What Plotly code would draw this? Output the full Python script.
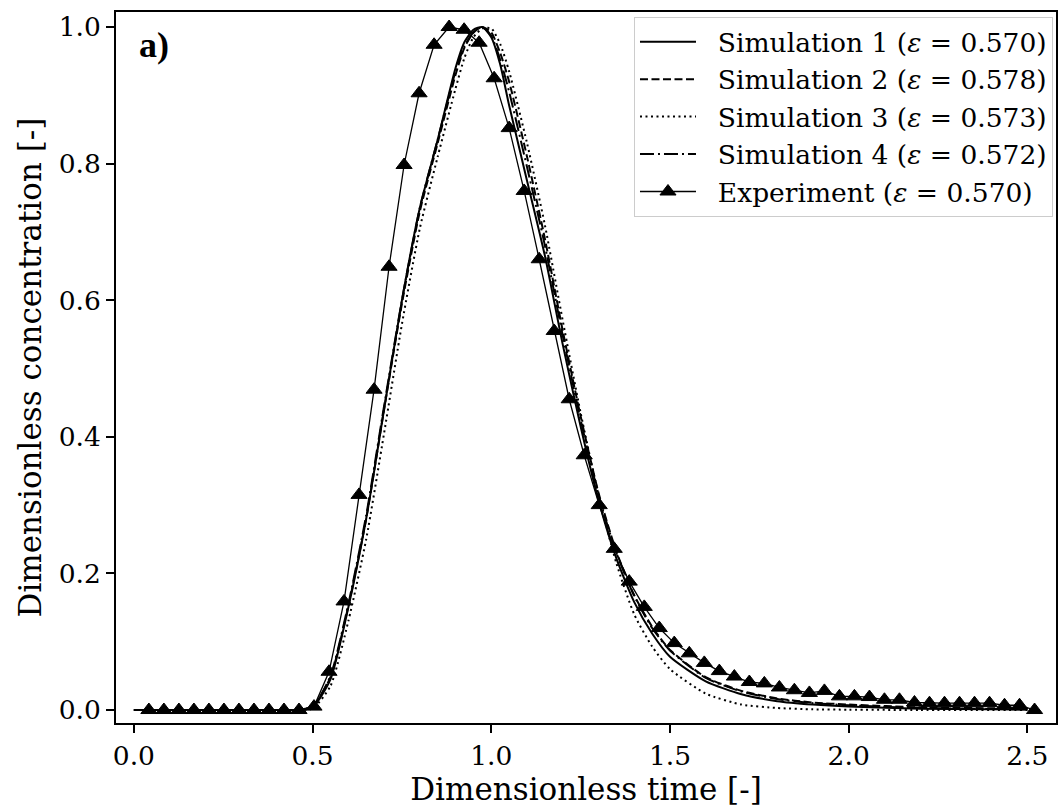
import plotly.graph_objects as go

# ---- data ----
sim_t = [0.00, 0.40, 0.45, 0.50, 0.55, 0.60, 0.65, 0.70, 0.75, 0.80, 0.85, 0.90, 0.925, 0.95, 0.975,
         1.00, 1.025, 1.05, 1.10, 1.15, 1.20, 1.25, 1.30, 1.35, 1.40, 1.45, 1.50, 1.60, 1.70, 1.80,
         1.90, 2.00, 2.20, 2.50]

sim1 = [0.0, 0.0, 0.0, 0.004, 0.045, 0.150, 0.280, 0.440, 0.600, 0.735, 0.835, 0.940, 0.978, 0.996, 1.000,
        0.985, 0.945, 0.885, 0.775, 0.665, 0.535, 0.415, 0.307, 0.222, 0.158, 0.112, 0.078, 0.042, 0.023, 0.013,
        0.008, 0.005, 0.002, 0.0005]

sim2 = [0.0, 0.0, 0.0, 0.005, 0.048, 0.152, 0.280, 0.440, 0.595, 0.730, 0.830, 0.930, 0.970, 0.992, 1.000,
        0.992, 0.962, 0.920, 0.810, 0.690, 0.555, 0.430, 0.318, 0.232, 0.168, 0.122, 0.088, 0.048, 0.028, 0.017,
        0.011, 0.008, 0.004, 0.002]

sim3 = [0.0, 0.0, 0.0, 0.002, 0.035, 0.130, 0.250, 0.405, 0.565, 0.705, 0.810, 0.910, 0.955, 0.985, 0.998,
        0.998, 0.975, 0.935, 0.830, 0.710, 0.570, 0.435, 0.315, 0.215, 0.140, 0.093, 0.060, 0.024, 0.008, 0.003,
        0.001, 0.0005, 0.0, 0.0]

sim4 = [0.0, 0.0, 0.0, 0.005, 0.050, 0.155, 0.285, 0.445, 0.600, 0.735, 0.835, 0.935, 0.972, 0.992, 1.000,
        0.987, 0.952, 0.905, 0.795, 0.680, 0.548, 0.425, 0.315, 0.230, 0.167, 0.120, 0.087, 0.047, 0.027, 0.016,
        0.010, 0.007, 0.003, 0.001]

exp_t = [0.042, 0.084, 0.126, 0.168, 0.210, 0.252, 0.294, 0.336, 0.378, 0.420, 0.462, 0.504, 0.546, 0.588,
         0.630, 0.672, 0.714, 0.756, 0.798, 0.840, 0.882, 0.924, 0.966, 1.008, 1.050, 1.092, 1.134, 1.176,
         1.218, 1.260, 1.302, 1.344, 1.386, 1.428, 1.470, 1.512, 1.554, 1.596, 1.638, 1.680, 1.722, 1.764,
         1.806, 1.848, 1.890, 1.932, 1.974, 2.016, 2.058, 2.100, 2.142, 2.184, 2.226, 2.268, 2.310, 2.352,
         2.394, 2.436, 2.478, 2.520]

exp_c = [0.0, 0.0, 0.0, 0.0, 0.0, 0.0, 0.0, 0.0, 0.0, 0.0, 0.0, 0.005, 0.056, 0.159,
         0.315, 0.469, 0.649, 0.798, 0.903, 0.974, 1.000, 0.996, 0.977, 0.925, 0.852, 0.760, 0.660, 0.555,
         0.455, 0.373, 0.300, 0.236, 0.188, 0.151, 0.120, 0.098, 0.083, 0.069, 0.057, 0.049, 0.041, 0.039,
         0.033, 0.029, 0.025, 0.028, 0.020, 0.020, 0.019, 0.015, 0.015, 0.011, 0.010, 0.010, 0.010, 0.010,
         0.010, 0.007, 0.007, 0.0]

PAD = "\u00a0\u00a0"
sim_names = [PAD + "Simulation 1 (<i>ε</i> = 0.570)",
             PAD + "Simulation 2 (<i>ε</i> = 0.578)",
             PAD + "Simulation 3 (<i>ε</i> = 0.573)",
             PAD + "Simulation 4 (<i>ε</i> = 0.572)"]
exp_name = PAD + "Experiment (<i>ε</i> = 0.570)"
sim_dashes = ["solid", "8px,3.5px", "2px,3.5px", "14px,4px,2px,4px"]

x_title = "Dimensionless time [-]"
y_title = "Dimensionless concentration [-]"
panel_label = "<b>a)</b>"

FONT = "DejaVu Serif"
TICK_SIZE = 26.5
TITLE_SIZE = 31

fig = go.Figure()
for i, (ys, nm, ds) in enumerate(zip([sim1, sim2, sim3, sim4], sim_names, sim_dashes)):
    fig.add_trace(go.Scatter(
        x=sim_t, y=ys, name=nm, mode="lines", legendgroup=f"g{i}",
        line=dict(color="black", width=2, dash=ds, shape="spline", smoothing=0.6),
    ))

fig.add_trace(go.Scatter(
    x=exp_t, y=exp_c, name=exp_name, mode="lines+markers", legendgroup="g5",
    line=dict(color="black", width=1.3),
    marker=dict(symbol="triangle-up", size=14, color="black", line=dict(color="black", width=1)),
))

fig.update_layout(
    width=1062, height=809, autosize=False,
    margin=dict(l=116, r=4, t=12, b=86),
    paper_bgcolor="white", plot_bgcolor="white",
    font=dict(family=FONT, color="black", size=TICK_SIZE),
    showlegend=True,
    legend=dict(
        x=0.9968, y=0.993, xanchor="right", yanchor="top",
        bgcolor="rgba(255,255,255,0.85)", bordercolor="#cccccc", borderwidth=1,
        font=dict(family=FONT, size=TICK_SIZE, color="black"),
        tracegroupgap=0, itemwidth=56, traceorder="grouped",
    ),
    annotations=[dict(
        text=panel_label, xref="paper", yref="paper", x=0.0223, y=0.9536,
        xanchor="left", yanchor="middle", showarrow=False,
        font=dict(family="Liberation Serif", size=36, color="black"),
    )],
)

axis_common = dict(
    showline=True, linecolor="black", linewidth=1.6, mirror=True,
    ticks="outside", ticklen=8, tickwidth=1.6, tickcolor="black",
    showgrid=False, zeroline=False, tickformat=".1f",
    tickfont=dict(family=FONT, size=TICK_SIZE, color="black"),
)

fig.update_xaxes(range=[-0.05, 2.58], dtick=0.5, tick0=0,
                 title=dict(text=x_title, font=dict(family=FONT, size=TITLE_SIZE), standoff=4),
                 **axis_common)
fig.update_yaxes(range=[-0.019, 1.022], dtick=0.2, tick0=0,
                 title=dict(text=y_title, font=dict(family=FONT, size=TITLE_SIZE), standoff=8),
                 **axis_common)

fig.write_html("out.html",
               config={"displayModeBar": False},
               post_script="document.body.style.margin='0';document.body.style.overflow='hidden';")
